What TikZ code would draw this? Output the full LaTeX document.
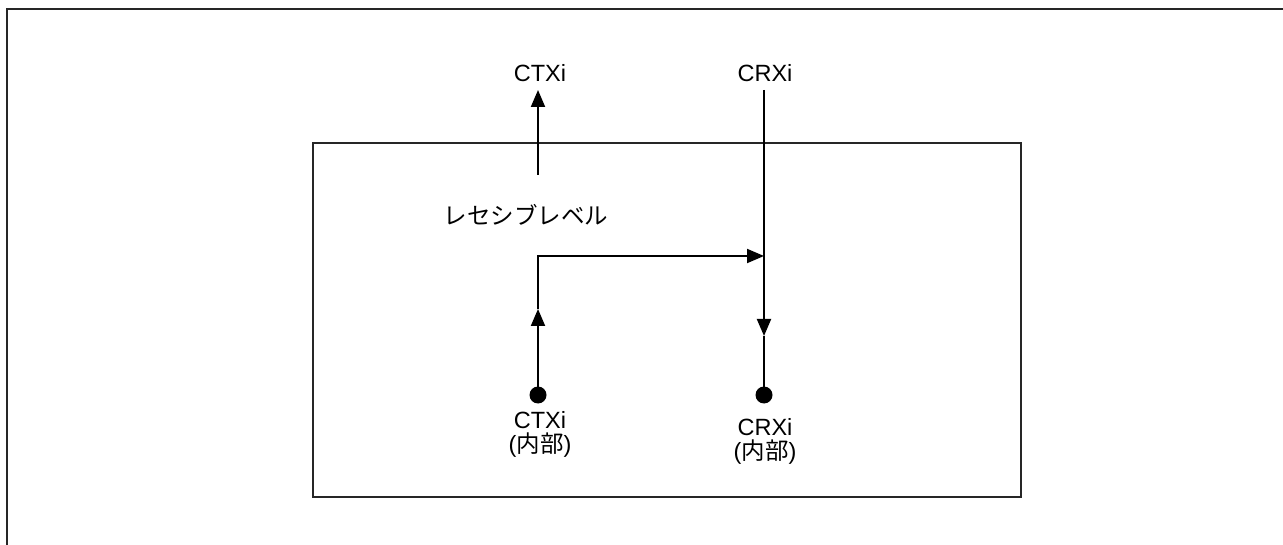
\documentclass[tikz,border=0pt]{standalone}
\usepackage{fontspec}
\setmainfont{Liberation Sans}
\newfontfamily\cjk{Noto Sans CJK JP}
\usetikzlibrary{arrows.meta}
\tikzset{
  wire/.style={line width=2pt, -{Triangle[length=17pt,width=14pt]}},
  plain/.style={line width=2pt},
  frame/.style={line width=2pt, draw=black!85},
  dot/.style={circle, fill=black, inner sep=0pt, minimum size=17pt},
  lbl/.style={font=\fontsize{23.5}{26}\selectfont, inner sep=1pt, align=center}
}
\begin{document}
\begin{tikzpicture}[x=1pt,y=-1pt]
\useasboundingbox (0,0) rectangle (1283,545);
% outer frame (extends beyond picture on right and bottom)
\draw[frame] (1300,9) -- (7,9) -- (7,560);
% inner box
\draw[frame] (313,143) rectangle (1021,497);
% labels
\node[lbl] (ctxo) at (540,73) {CTXi};
\node[lbl] (crxo) at (765,73) {CRXi};
\node[lbl] (rec) at (526,215) {\cjk レセシブレベル};
\node[dot] (ctxd) at (538,395) {};
\node[dot] (crxd) at (764,395) {};
\node[lbl, anchor=north] (ctxl) at (540,410) {CTXi\\[-2pt]({\cjk 内部})};
\node[lbl, anchor=north] (crxl) at (765,417) {CRXi\\[-2pt]({\cjk 内部})};
% coordinates
\coordinate (ctxtop) at (538,90);
\coordinate (ctxbot) at (538,175);
\coordinate (crxtop) at (764,90);
\coordinate (crxmid) at (764,336);
\coordinate (uparr) at (538,309);
\coordinate (corner) at (538,256);
\coordinate (join) at (764,256);
% connectors
\draw[wire] (ctxbot) -- (ctxtop);
\draw[wire] (crxtop) -- (crxmid);
\draw[plain] (crxmid) -- (crxd.center);
\draw[wire] (ctxd.center) -- (uparr);
\draw[wire] (uparr) -- (corner) -- (join);
\end{tikzpicture}
\end{document}
